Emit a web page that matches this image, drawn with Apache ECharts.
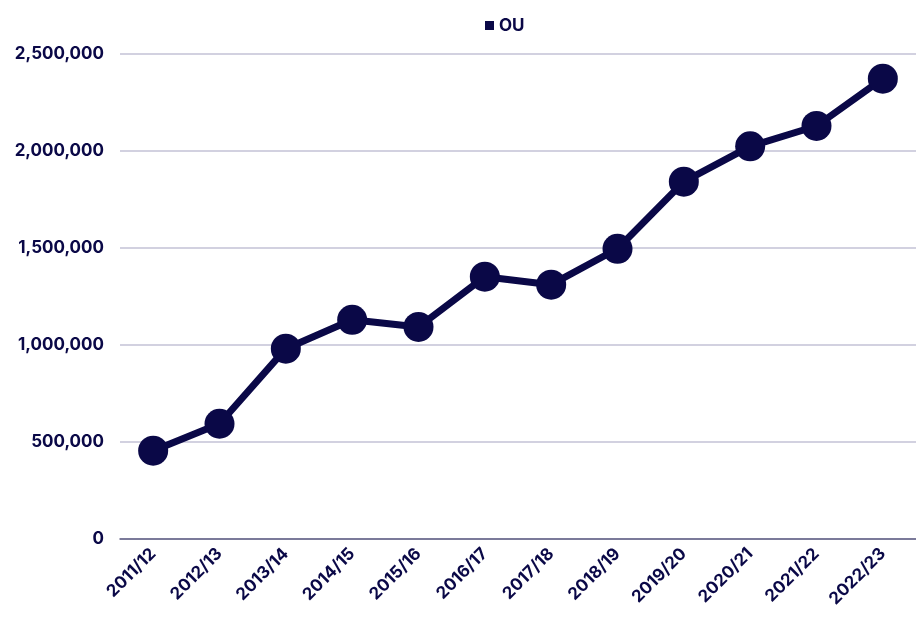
<!DOCTYPE html>
<html>
<head>
<meta charset="utf-8">
<script src="https://cdn.jsdelivr.net/npm/echarts@6/dist/echarts.min.js"></script>
<style>html,body{margin:0;padding:0;background:#fff}#c{width:916px;height:621px}</style>
</head>
<body>
<div id="c"></div>
<script>
const categories = ['2011/12','2012/13','2013/14','2014/15','2015/16','2016/17','2017/18','2018/19','2019/20','2020/21','2021/22','2022/23'];
const seriesName = 'OU';
const values = [455000, 594000, 981000, 1130000, 1093000, 1352000, 1311000, 1496000, 1842000, 2024000, 2129000, 2373000];
const yTicks = [0, 500000, 1000000, 1500000, 2000000, 2500000];

const navy = '#0a0847';
const font = 'Inter, "Noto Sans", sans-serif';
const chart = echarts.init(document.getElementById('c'), null, {renderer: 'canvas'});
chart.setOption({
  animation: false,
  backgroundColor: '#fff',
  legend: {
    top: 12, left: 480,
    data: [{name: seriesName, icon: 'rect'}],
    itemWidth: 9, itemHeight: 9, itemGap: 10,
    textStyle: {color: navy, fontFamily: font, fontWeight: 700, fontSize: 17}
  },
  grid: {left: 120, right: 0, top: 54, bottom: 82, containLabel: false},
  xAxis: {
    type: 'category', data: categories, boundaryGap: true,
    axisLine: {lineStyle: {color: '#5f5d82', width: 1.5}},
    axisTick: {show: false},
    axisLabel: {rotate: 45, color: navy, fontFamily: font, fontWeight: 700, fontSize: 17, margin: 12, interval: 0}
  },
  yAxis: {
    type: 'value', min: yTicks[0], max: yTicks[yTicks.length - 1], interval: 500000,
    axisLine: {show: false}, axisTick: {show: false},
    splitLine: {lineStyle: {color: '#c3c2d6', width: 1.5}},
    axisLabel: {color: navy, fontFamily: font, fontWeight: 700, fontSize: 17, margin: 16,
      formatter: v => v.toLocaleString('en-US')}
  },
  series: [{
    name: seriesName, type: 'line', data: values,
    symbol: 'circle', symbolSize: 30,
    lineStyle: {color: navy, width: 7},
    itemStyle: {color: navy}
  }]
});
</script>
</body>
</html>
